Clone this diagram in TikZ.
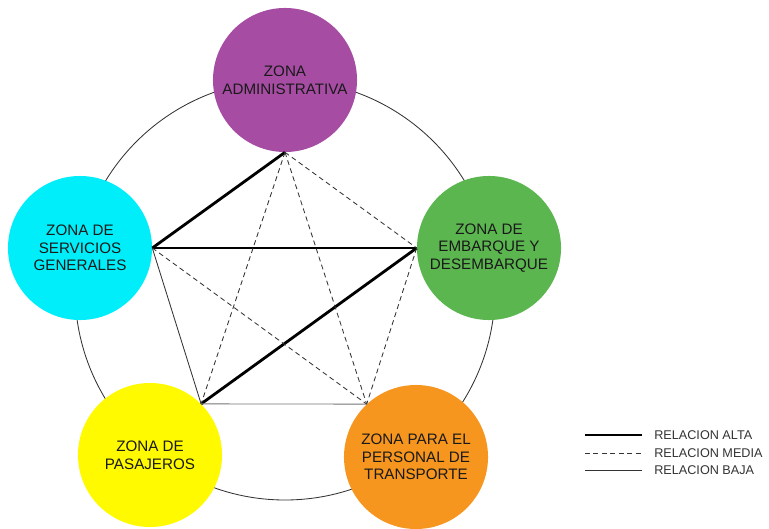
\documentclass[tikz,border=0pt]{standalone}
\usepackage{fontspec}
\setmainfont{Liberation Sans}
\definecolor{zadm}{RGB}{166,77,163}
\definecolor{zserv}{RGB}{0,238,250}
\definecolor{zemb}{RGB}{92,182,80}
\definecolor{zpas}{RGB}{255,250,0}
\definecolor{zpers}{RGB}{246,150,30}
\begin{document}
\begin{tikzpicture}[x=0.025cm,y=0.025cm,
  zona/.style={circle,minimum size=3.6cm,inner sep=0pt,align=center,
    font=\fontsize{10.8}{12.5}\selectfont,text=black!90},
  alta/.style={line width=2pt},
  media/.style={line width=0.6pt,black!80,dash pattern=on 3.5pt off 2.5pt},
  baja/.style={line width=0.6pt,black!80}]
  \useasboundingbox (0,0) rectangle (769,528);
  % outer ring through the five zones:
  \draw[line width=0.6pt,black!80] (285,238) circle (210);
  % zones:
  \node[zona,fill=zadm]  (adm)  at (285,448) {ZONA\\ADMINISTRATIVA};
  \node[zona,fill=zserv] (serv) at (80,280)  {ZONA DE\\SERVICIOS\\GENERALES};
  \node[zona,fill=zemb]  (emb)  at (489,280) {ZONA DE\\EMBARQUE Y\\DESEMBARQUE};
  \node[zona,fill=zpas]  (pas)  at (150,73)  {ZONA DE\\PASAJEROS};
  \node[zona,fill=zpers] (pers) at (416,71)  {ZONA PARA EL\\PERSONAL DE\\TRANSPORTE};
  % relations between zones:
  \draw[alta] (adm.south) -- (serv.east);
  \draw[alta] (serv.east) -- (emb.west);
  \draw[alta] (emb.west) -- (pas.45);
  \draw[media] (adm.south) -- (emb.west);
  \draw[media] (adm.south) -- (pas.45);
  \draw[media] (adm.south) -- (pers.133);
  \draw[media] (serv.east) -- (pers.133);
  \draw[media] (emb.west) -- (pers.133);
  \draw[baja] (serv.east) -- (pas.45);
  \draw[baja,black!55] (pas.45) -- (pers.133);
  % legend:
  \coordinate (la1) at (585,93); \coordinate (la2) at (642,93);
  \coordinate (lm1) at (585,75); \coordinate (lm2) at (642,75);
  \coordinate (lb1) at (585,58); \coordinate (lb2) at (642,58);
  \draw[alta] (la1) -- (la2);
  \draw[media] (lm1) -- (lm2);
  \draw[baja] (lb1) -- (lb2);
  \begin{scope}[every node/.style={anchor=west,inner sep=0pt,
      font=\fontsize{9}{10}\selectfont,text=black!80}]
    \node (alta) at (654,93) {RELACION ALTA};
    \node (media) at (654,75) {RELACION MEDIA};
    \node (baja) at (654,58) {RELACION BAJA};
  \end{scope}
\end{tikzpicture}
\end{document}
